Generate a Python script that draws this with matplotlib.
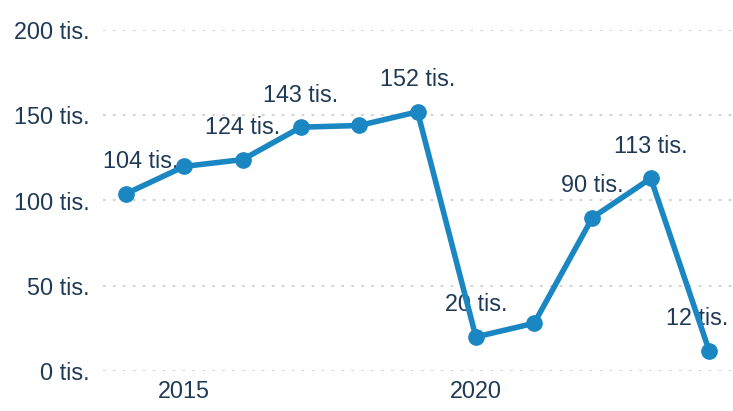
import matplotlib
matplotlib.use("Agg")
import matplotlib.pyplot as plt

years = [2014, 2015, 2016, 2017, 2018, 2019, 2020, 2021, 2022, 2023, 2024]
values = [104, 120, 124, 143, 144, 152, 20, 28, 90, 113, 12]
labeled = [True, False, True, True, False, True, True, False, True, True, True]
label_dx = [15, 0, 0, 0, 0, 0, 0, 0, 0, 0, -12]  # px shift for labels
yticks = [0, 50, 100, 150, 200]
xticks = [2015, 2020]

plt.rcParams['font.family'] = ['Liberation Sans', 'DejaVu Sans']
text_color = '#1f3a56'
line_color = '#1b87c2'
fs = 16.8

fig = plt.figure(figsize=(7.33, 4.11), dpi=100)
ax = fig.add_axes([103/733, 1-371/411, 1-103/733, (371-30)/411])
ax.set_xlim(2013.605, 2024.41)
ax.set_ylim(0, 200)

for y in yticks:
    ax.axhline(y, color='#cfcfcf', lw=1.3, ls=(0, (1.5, 4)), zorder=0)

for i, (x, v) in enumerate(zip(years, values)):
    if labeled[i]:
        ax.annotate(f"{v} tis.", (x, v), xytext=(label_dx[i]*0.72, 23),
                    textcoords='offset points', ha='center', va='center',
                    fontsize=fs, color=text_color, zorder=2)

ax.plot(years, values, color=line_color, lw=4.0, marker='o', ms=11,
        clip_on=False, zorder=3)

ax.set_yticks(yticks)
ax.set_yticklabels([f"{y} tis." for y in yticks])
ax.set_xticks(xticks)
ax.set_xticklabels([str(x) for x in xticks])
ax.tick_params(axis='y', length=0, pad=9.5, labelsize=fs, labelcolor=text_color)
ax.tick_params(axis='x', length=0, pad=6.5, labelsize=fs, labelcolor=text_color)
for s in ax.spines.values():
    s.set_visible(False)
ax.patch.set_alpha(0)

fig.savefig("out.png", dpi=100)
